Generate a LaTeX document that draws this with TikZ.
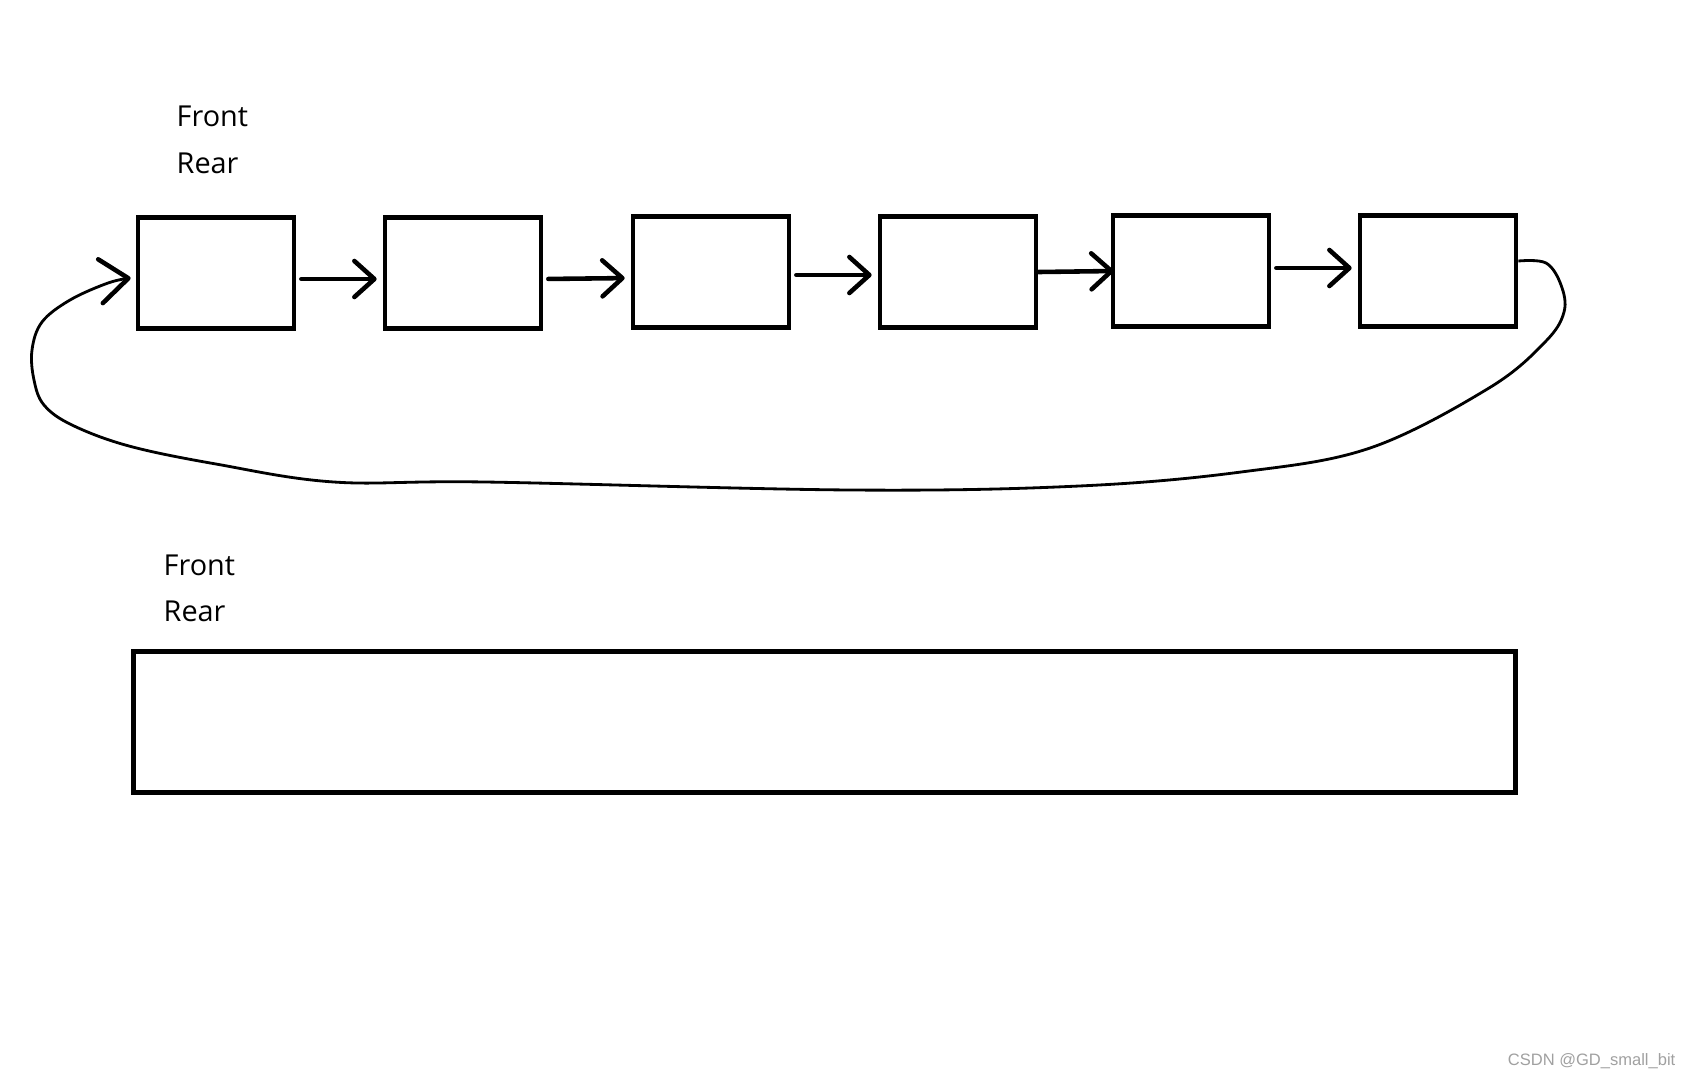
\documentclass[tikz,border=0pt]{standalone}
\usepackage{fontspec}
\setmainfont{Open Sans}
\newfontfamily\marcafont{Liberation Sans}
\usepackage{tikz}
\usetikzlibrary{positioning,arrows.meta}
\definecolor{tinta}{RGB}{0,0,0}
\definecolor{marcagris}{RGB}{160,160,160}

\begin{document}
\begin{tikzpicture}[x=0.01cm, y=-0.01cm,
  caja/.style={draw=tinta, line width=1.3pt, minimum width=1.56cm,
    minimum height=1.11cm, inner sep=0pt},
  largo/.style={draw=tinta, line width=1.3pt, minimum width=13.81cm,
    minimum height=1.41cm, inner sep=0pt},
  etiq/.style={font=\fontsize{8.2}{10}\selectfont, text=tinta, inner sep=0pt,
    anchor=base west},
  flecha/.style={line width=1.3pt, draw=tinta, line cap=round,
    -{Straight Barb[round, length=0.2cm, width=0.36cm]}},
  vuelta/.style={line width=0.8pt, draw=tinta,
    -{Straight Barb[round, length=0.28cm, width=0.44cm, line width=1.3pt]}},
  marca/.style={font=\marcafont\fontsize{4.7}{5}\selectfont, text=marcagris,
    inner sep=0pt, anchor=base east},
]
  \useasboundingbox (0,0) rectangle (1692,1078);
  % ---- Cola enlazada (arriba) ----
  \node[etiq] (front1) at (176,126) {Front};
  \node[etiq] (rear1) at (176,173) {Rear};
  \node[caja] (n1) at (216,273) {};
  \node[caja] (n2) at (463,273) {};
  \node[caja] (n3) at (711,272) {};
  \node[caja] (n4) at (958,272) {};
  \node[caja] (n5) at (1191,271) {};
  \node[caja] (n6) at (1438,271) {};
  % ---- Enlaces ----
  \draw[flecha, shorten <=0.05cm, shorten >=0.06cm]
    ([yshift=-0.06cm]n1.east) -- ([yshift=-0.06cm]n2.west);
  \draw[flecha, shorten <=0.05cm, shorten >=0.06cm]
    ([yshift=-0.06cm]n2.east) -- ([yshift=-0.06cm]n3.west);
  \draw[flecha, shorten <=0.05cm, shorten >=0.06cm]
    ([yshift=-0.03cm]n3.east) -- ([yshift=-0.03cm]n4.west);
  \draw[flecha] (n4.east) -- ([xshift=0.03cm]n5.west);
  \draw[flecha, shorten <=0.05cm, shorten >=0.06cm]
    ([yshift=0.03cm]n5.east) -- ([yshift=0.03cm]n6.west);
  % Vuelta del ultimo al primero
  \draw[vuelta] plot[smooth, tension=0.6] coordinates {
    ([yshift=0.1cm]n6.east) (1546,263) (1561,285) (1564,312) (1545,342)
    (1489,388) (1370,448) (1241,472) (1079,486) (852,490) (486,482)
    (334,482) (216,464) (129,446) (72,425) (44,405) (34,380) (32,350)
    (42,322) (70,300) (108,283) ([xshift=-0.05cm,yshift=-0.05cm]n1.west)};
  % ---- Arreglo (abajo) ----
  \node[etiq] (front2) at (163,575) {Front};
  \node[etiq] (rear2) at (163,621) {Rear};
  \node[largo] (arr) at (824.5,722) {};
  \node[marca] (marca) at (1676,1065) {CSDN @GD\_small\_bit};
\end{tikzpicture}
\end{document}
